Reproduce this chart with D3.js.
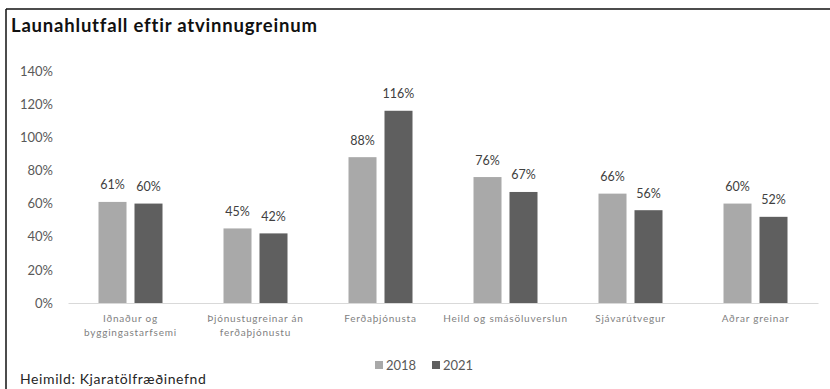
<!DOCTYPE html>
<html>
<head>
<meta charset="utf-8">
<script src="https://cdn.jsdelivr.net/npm/d3@7/dist/d3.min.js"></script>
<style>
  html, body { margin: 0; padding: 0; background: #fff; }
  svg { display: block; font-family: Lato, "Open Sans", sans-serif; }
</style>
</head>
<body>
<svg id="chart" width="830" height="389"></svg>
<script>
const categories = [
  ["Iðnaður og", "byggingastarfsemi"],
  ["Þjónustugreinar án", "ferðaþjónustu"],
  ["Ferðaþjónusta"],
  ["Heild og smásöluverslun"],
  ["Sjávarútvegur"],
  ["Aðrar greinar"]
];
const seriesNames = ["2018", "2021"];
const values2018 = [61, 45, 88, 76, 66, 60];
const values2021 = [60, 42, 116, 67, 56, 52];
const yTicks = [0, 20, 40, 60, 80, 100, 120, 140];
const title = "Launahlutfall eftir atvinnugreinum";
const source = "Heimild: Kjaratölfræðinefnd";

const colors = { "2018": "#a9a9a9", "2021": "#5f5f5f" };
const seriesValues = { "2018": values2018, "2021": values2021 };

const svg = d3.select("#chart");

// frame (top and left lines)
svg.append("line").attr("x1", 6).attr("x2", 830).attr("y1", 9).attr("y2", 9)
  .attr("stroke", "#111").attr("stroke-width", 1.5);
svg.append("line").attr("x1", 6).attr("x2", 6).attr("y1", 9).attr("y2", 389)
  .attr("stroke", "#111").attr("stroke-width", 1.5);

svg.append("text").attr("x", 11).attr("y", 32)
  .attr("font-size", 18.5).attr("font-weight", 700).attr("fill", "#111")
  .attr("letter-spacing", 0.8)
  .text(title);

const plotLeft = 68, plotRight = 818;
const y = d3.scaleLinear().domain([0, 140]).range([303, 71]);
const idx = d3.range(categories.length);
const x0 = d3.scaleBand().domain(idx).range([plotLeft, plotRight])
  .paddingInner(0.488).paddingOuter(0.244);
const x1 = d3.scaleBand().domain(seriesNames).range([0, x0.bandwidth()])
  .paddingInner(0.222);

// y axis labels
const yAxis = d3.axisLeft(y).tickValues(yTicks).tickFormat(d => d + "%").tickSize(0).tickPadding(0);
const yg = svg.append("g").attr("transform", "translate(53,0)").call(yAxis);
yg.select(".domain").remove();
yg.selectAll("text").attr("font-size", 13).attr("fill", "#595959").attr("font-family", "Lato, sans-serif");

// bars
const groups = svg.append("g").selectAll("g").data(idx).join("g")
  .attr("transform", i => `translate(${x0(i)},0)`);
groups.selectAll("rect").data(i => seriesNames.map(s => ({ s, v: seriesValues[s][i] })))
  .join("rect")
  .attr("x", d => x1(d.s)).attr("width", x1.bandwidth())
  .attr("y", d => y(d.v)).attr("height", d => y(0) - y(d.v))
  .attr("fill", d => colors[d.s]);
groups.selectAll("text.val").data(i => seriesNames.map(s => ({ s, v: seriesValues[s][i] })))
  .join("text").attr("class", "val")
  .attr("x", d => x1(d.s) + x1.bandwidth() / 2)
  .attr("y", d => y(d.v) - 12.5)
  .attr("text-anchor", "middle").attr("font-size", 12.5).attr("fill", "#404040")
  .text(d => d.v + "%");

// x axis
const xAxis = d3.axisBottom(x0).tickSize(0).tickFormat(() => "");
const xg = svg.append("g").attr("transform", `translate(0,${y(0)})`).call(xAxis);
xg.select(".domain").attr("stroke", "#d9d9d9").attr("stroke-width", 1.2);

// category labels
const cl = svg.append("g").selectAll("text").data(idx).join("text")
  .attr("x", i => x0(i) + x0.bandwidth() / 2)
  .attr("y", 322)
  .attr("text-anchor", "middle").attr("font-size", 10).attr("fill", "#7f7f7f")
  .attr("letter-spacing", 0.8);
cl.selectAll("tspan").data(i => categories[i]).join("tspan")
  .attr("x", function() { return d3.select(this.parentNode).attr("x"); })
  .attr("dy", (d, j) => j === 0 ? 0 : 14)
  .text(d => d);

// legend
const legendX = [375, 432];
const lg = svg.append("g").selectAll("g").data(seriesNames).join("g")
  .attr("transform", (d, i) => `translate(${legendX[i]},361)`);
lg.append("rect").attr("width", 8).attr("height", 8).attr("fill", d => colors[d]);
lg.append("text").attr("x", 11).attr("y", 8.5).attr("font-size", 13).attr("fill", "#595959").text(d => d);

svg.append("text").attr("x", 20).attr("y", 384)
  .attr("font-size", 14).attr("fill", "#262626").attr("letter-spacing", 0.6).text(source);
</script>
</body>
</html>
